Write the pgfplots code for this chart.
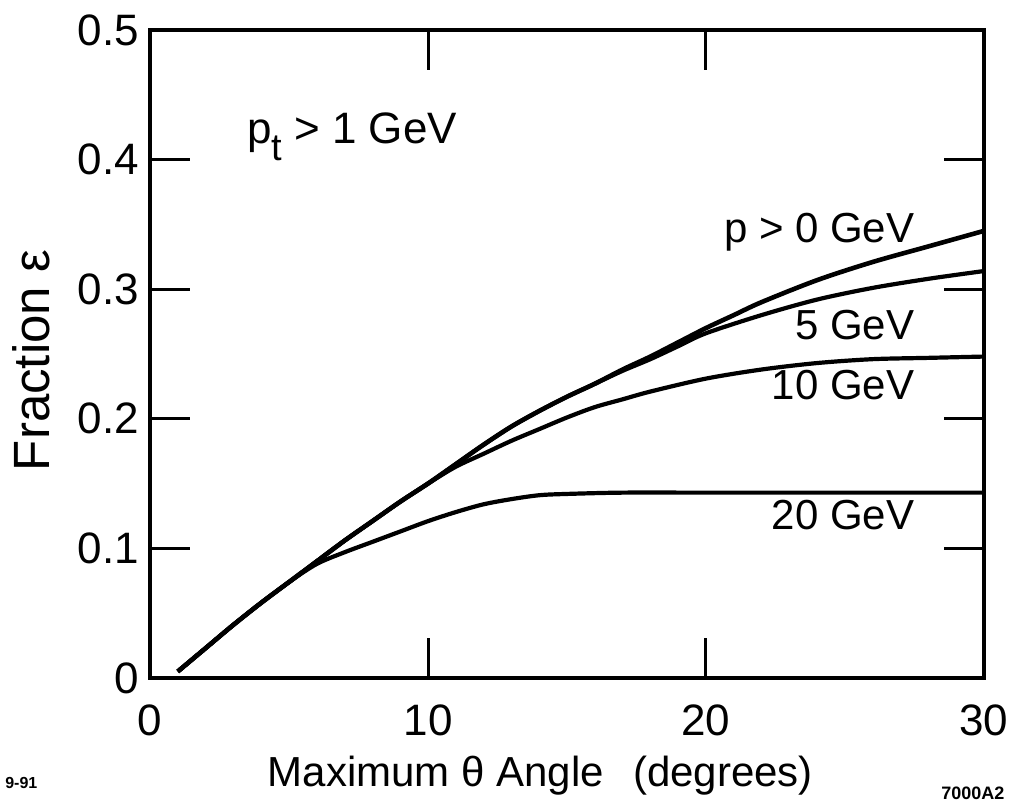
\documentclass[border=0pt]{standalone}
\usepackage{pgfplots}
\pgfplotsset{compat=1.18}
\usepackage{pgfplotstable}
\usepackage{fontspec}
\setmainfont{Liberation Sans}

% fraction vs. maximum angle, one table per momentum cut
\pgfplotstableread{
x y
1 0.005
2 0.023
3 0.041
4 0.058
5 0.074
6 0.090
7 0.106
8 0.121
9 0.136
10 0.150
11 0.165
12 0.180
13 0.194
14 0.206
15 0.217
16 0.227
17 0.238
18 0.248
19 0.259
20 0.270
21 0.280
22 0.290
24 0.307
26 0.321
28 0.333
30 0.345
}\pzero
\pgfplotstableread{
x y
1 0.005
2 0.023
3 0.041
4 0.058
5 0.074
6 0.090
7 0.106
8 0.121
9 0.136
10 0.150
11 0.165
12 0.180
13 0.194
14 0.206
15 0.217
16 0.227
17 0.237
18 0.246
19 0.256
20 0.266
22 0.280
24 0.292
26 0.301
28 0.308
30 0.314
}\pfive
\pgfplotstableread{
x y
1 0.005
2 0.023
3 0.041
4 0.058
5 0.074
6 0.090
7 0.106
8 0.121
9 0.136
10 0.150
11 0.163
12 0.173
13 0.183
14 0.192
15 0.201
16 0.209
17 0.215
18 0.221
20 0.231
22 0.238
24 0.243
26 0.246
28 0.247
30 0.248
}\pten
\pgfplotstableread{
x y
1 0.005
2 0.023
3 0.041
4 0.058
5 0.074
6 0.088
7 0.097
8 0.105
9 0.113
10 0.121
11 0.128
12 0.134
13 0.138
14 0.141
15 0.142
17 0.143
20 0.143
25 0.143
30 0.143
}\ptwenty

\begin{document}
\begin{tikzpicture}
\begin{axis}[
  scale only axis,
  width=417pt, height=324pt,
  xmin=0, xmax=30, ymin=0, ymax=0.5,
  xtick={0,10,20,30}, ytick={0,0.1,0.2,0.3,0.4,0.5},
  tick align=inside, major tick length=20pt,
  axis line style={line width=2pt},
  every tick/.style={line width=1.5pt, black},
  /pgf/number format/assume math mode=true,
  tick label style={font=\fontsize{22}{26}\selectfont},
  xticklabel style={yshift=-10pt},
  yticklabel style={xshift=-2pt},
  xlabel={Maximum θ Angle\hspace{0.7em}(degrees)},
  ylabel={Fraction ε},
  every axis x label/.style={at={(rel axis cs:0.468,-0.150)}, anchor=center,
    font=\fontsize{21}{25}\selectfont},
  every axis y label/.style={at={(rel axis cs:-0.142,0.49)}, anchor=center, rotate=90,
    font=\fontsize{25.5}{30}\selectfont},
  clip=false,
]
\addplot[line width=2.3pt, smooth] table {\pzero};
\addplot[line width=2.1pt, smooth] table {\pfive};
\addplot[line width=2.1pt, smooth] table {\pten};
\addplot[line width=2.1pt, smooth] table {\ptwenty};

\node[anchor=west, inner sep=0pt, font=\fontsize{22}{26}\selectfont] at (rel axis cs:0.116,0.835)
  {p\raisebox{-0.4em}{\fontsize{19}{22}\selectfont t} > 1 GeV};
\node[anchor=east, inner sep=0pt, font=\fontsize{21}{25}\selectfont] at (rel axis cs:0.917,0.688) {p > 0 GeV};
\node[anchor=east, inner sep=0pt, font=\fontsize{21}{25}\selectfont] at (rel axis cs:0.917,0.545) {5 GeV};
\node[anchor=east, inner sep=0pt, font=\fontsize{21}{25}\selectfont] at (rel axis cs:0.917,0.452) {10 GeV};
\node[anchor=east, inner sep=0pt, font=\fontsize{21}{25}\selectfont] at (rel axis cs:0.917,0.252) {20 GeV};

\node[anchor=west, inner sep=0pt, font=\bfseries\fontsize{8}{10}\selectfont] at (rel axis cs:-0.174,-0.162) {9-91};
\node[anchor=east, inner sep=0pt, font=\bfseries\fontsize{9}{11}\selectfont] at (rel axis cs:1.025,-0.178) {7000A2};

\coordinate (bl) at (rel axis cs:-0.1799,-0.1975);
\coordinate (tr) at (rel axis cs:1.0408,1.0463);
\end{axis}
\pgfresetboundingbox
\path[use as bounding box] (bl) rectangle (tr);
\end{tikzpicture}
\end{document}
